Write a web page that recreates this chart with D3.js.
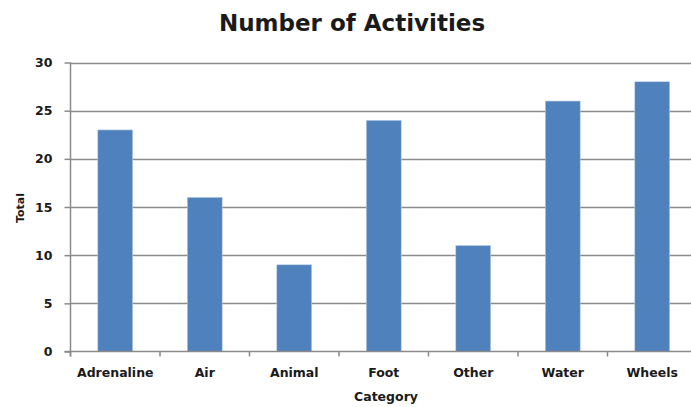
<!DOCTYPE html>
<html>
<head>
<meta charset="utf-8">
<script src="https://cdn.jsdelivr.net/npm/d3@7"></script>
<style>
	body { margin: 0; background: #fff; }
	text { font-family: "DejaVu Sans", sans-serif; font-weight: bold; fill: #1a1a1a; }
</style>
</head>
<body>
<svg id="chart" width="691" height="407"></svg>
<script>
"use strict";

const categories = ["Adrenaline", "Air", "Animal", "Foot", "Other", "Water", "Wheels"];
const totals = [23, 16, 9, 24, 11, 26, 28];
const yTicks = [0, 5, 10, 15, 20, 25, 30];

const svg = d3.select("#chart");
const plotLeft = 70.5, plotRight = 697, plotTop = 62.5, plotBottom = 351.5;

const x = d3.scaleBand().domain(categories).range([plotLeft, plotRight]).paddingInner(0.61).paddingOuter(0.305);
const xTickScale = d3.scaleBand().domain(categories).range([plotLeft, plotRight]);
const y = d3.scaleLinear().domain([0, 30]).range([plotBottom, plotTop]);

// gridlines
svg.append("g").selectAll("line").data(yTicks.filter(d => d > 0)).join("line")
	.attr("x1", plotLeft).attr("x2", 691)
	.attr("y1", d => Math.round(y(d)) + 0.5).attr("y2", d => Math.round(y(d)) + 0.5)
	.attr("stroke", "#8a8a8a").attr("stroke-width", 1.5);

// bars
svg.append("g").selectAll("rect").data(categories).join("rect")
	.attr("x", d => x(d))
	.attr("width", x.bandwidth())
	.attr("y", (d, i) => y(totals[i]))
	.attr("height", (d, i) => plotBottom - y(totals[i]))
	.attr("fill", "#4f81bd")
	.attr("stroke", "#b9cde5").attr("stroke-width", 0.6);

// y axis
const yAxis = svg.append("g").attr("transform", `translate(${plotLeft},0)`)
	.call(d3.axisLeft(y).tickValues(yTicks).tickSize(6).tickPadding(12));
yAxis.select(".domain").attr("stroke", "#8a8a8a").attr("stroke-width", 1.5)
	.attr("d", `M0,${plotTop}V${plotBottom + 5}`);
yAxis.selectAll(".tick line").attr("stroke", "#8a8a8a").attr("stroke-width", 1.5);
yAxis.selectAll(".tick text").style("font-size", "12.5px").attr("fill", "#1a1a1a");

// x axis
const xAxis = svg.append("g").attr("transform", `translate(0,${plotBottom})`)
	.call(d3.axisBottom(xTickScale).tickSize(0).tickPadding(17));
xAxis.select(".domain").attr("stroke", "#8a8a8a").attr("stroke-width", 1.5)
	.attr("d", `M${plotLeft - 6},0H691`);
xAxis.selectAll(".tick line").remove();
xAxis.selectAll(".tick text").style("font-size", "12.5px").attr("fill", "#1a1a1a");
xAxis.append("g").selectAll("line").data(categories).join("line")
	.attr("x1", d => xTickScale(d)).attr("x2", d => xTickScale(d))
	.attr("y1", 0).attr("y2", 5)
	.attr("stroke", "#8a8a8a").attr("stroke-width", 1.5);
svg.selectAll("g").attr("font-family", null);

// titles
svg.append("text").attr("x", 352).attr("y", 31).attr("text-anchor", "middle")
	.style("font-size", "23px").text("Number of Activities");
svg.append("text").attr("x", 386).attr("y", 401).attr("text-anchor", "middle")
	.style("font-size", "12.5px").text("Category");
svg.append("text").attr("transform", "translate(24,208) rotate(-90)").attr("text-anchor", "middle")
	.style("font-size", "11px").text("Total");
</script>
</body>
</html>
